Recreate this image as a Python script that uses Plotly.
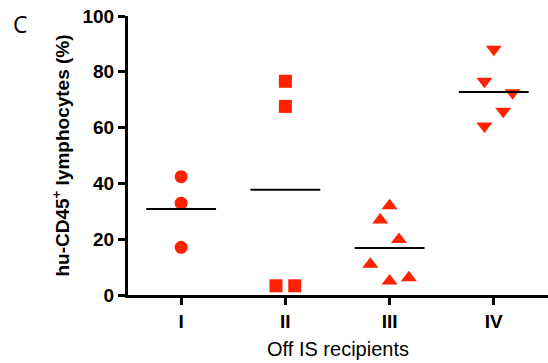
import numpy as np
import plotly.graph_objects as go

categories = ["I", "II", "III", "IV"]
cat_pos = [0, 1, 2, 3]

# values (%), with horizontal jitter offsets (category units)
g1_vals = [42.4, 32.9, 17.1]
g1_jit = [0.0, 0.0, 0.0]
g2_vals = [76.6, 67.6, 3.3, 3.3]
g2_jit = [0.0, 0.0, -0.09, 0.09]
g3_vals = [32.0, 26.9, 19.9, 11.0, 5.0, 6.2]
g3_jit = [0.0, -0.09, 0.09, -0.185, 0.0, 0.185]
g4_vals = [88.1, 76.6, 72.5, 65.9, 60.6]
g4_jit = [0.0, -0.09, 0.18, 0.09, -0.09]

groups = [
    (g1_vals, g1_jit, "circle", 13),
    (g2_vals, g2_jit, "square", 13),
    (g3_vals, g3_jit, "triangle-up", 14),
    (g4_vals, g4_jit, "triangle-down", 14),
]

RED = "#ff2200"
fig = go.Figure()
for pos, (vals, jit, sym, sz) in zip(cat_pos, groups):
    fig.add_trace(go.Scatter(
        x=[pos + j for j in jit], y=vals, mode="markers",
        marker=dict(symbol=sym, size=sz, color=RED, line=dict(width=0)),
        showlegend=False, hoverinfo="y"))
    m = float(np.mean(vals))
    fig.add_trace(go.Scatter(
        x=[pos - 0.335, pos + 0.335], y=[m, m], mode="lines",
        line=dict(color="black", width=2), showlegend=False, hoverinfo="skip"))

FONT = "Liberation Sans, Arial, sans-serif"
fig.update_layout(
    width=548, height=363,
    margin=dict(l=128, r=0, t=16, b=68),
    plot_bgcolor="white", paper_bgcolor="white",
    font=dict(family=FONT, color="black"),
    xaxis=dict(
        range=[-0.51, 3.52], tickmode="array", tickvals=cat_pos, ticktext=categories,
        showline=True, linecolor="black", linewidth=3,
        ticks="outside", ticklen=7, tickwidth=3, tickcolor="black",
        showgrid=False, zeroline=False,
        tickfont=dict(family=FONT, size=19, weight="bold"),
        title=dict(text="Off IS recipients", font=dict(family=FONT, size=20), standoff=12),
    ),
    yaxis=dict(
        range=[0, 100], tickvals=[0, 20, 40, 60, 80, 100],
        showline=True, linecolor="black", linewidth=3,
        ticks="outside", ticklen=7, tickwidth=3, tickcolor="black",
        showgrid=False, zeroline=False,
        tickfont=dict(family=FONT, size=19, weight="bold"),
        title=dict(text="hu-CD45<sup>+</sup> lymphocytes (%)",
                   font=dict(family=FONT, size=19, weight="bold"), standoff=8),
    ),
    annotations=[dict(text="C", x=(20 - 128) / 420, y=1 + (16 - 24) / 279,
                      xref="paper", yref="paper", xanchor="center", yanchor="middle",
                      showarrow=False, font=dict(family="Open Sans", size=23))],
)
fig.write_html("out.html")
